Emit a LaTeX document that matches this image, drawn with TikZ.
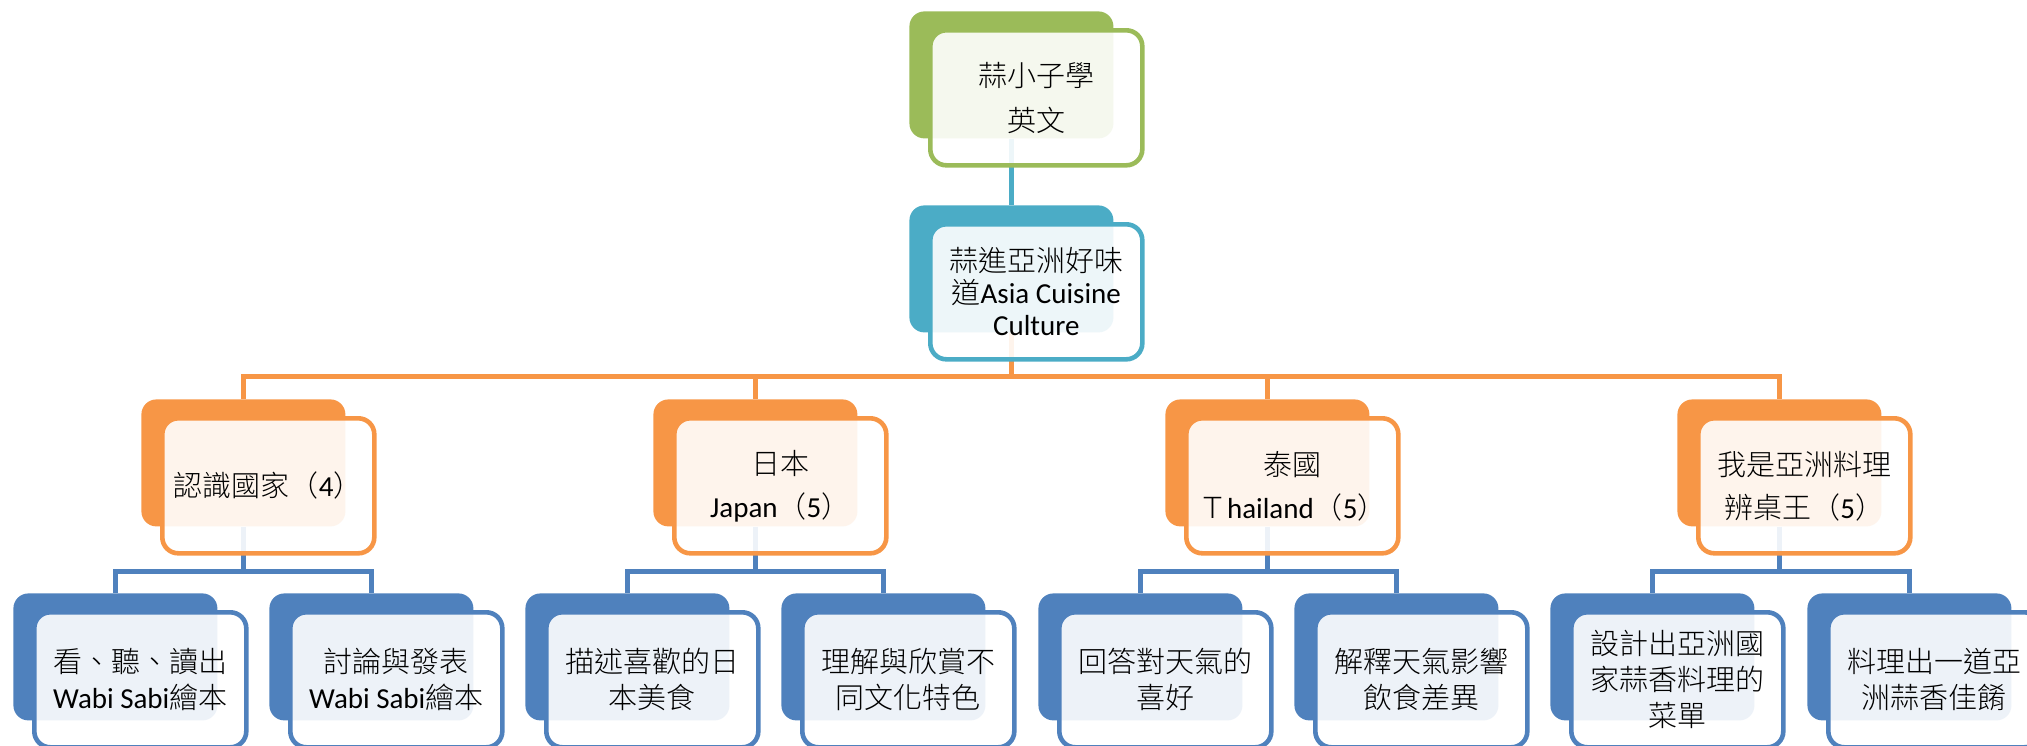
\documentclass[tikz,border=0pt]{standalone}
\usepackage{fontspec}
\setmainfont{Carlito}
\newfontfamily\cjk{Noto Sans CJK TC}[UprightFont=* Light]
\usetikzlibrary{calc}
\pgfdeclarelayer{bg}
\pgfsetlayers{bg,main}
\definecolor{cgreen}{HTML}{9BBB59}
\definecolor{cteal}{HTML}{4BACC6}
\definecolor{corange}{HTML}{F79646}
\definecolor{cblue}{HTML}{4F81BD}
\begin{document}
\begin{tikzpicture}[x=0.5pt,y=-0.5pt,
  backbox/.style={draw=none, fill=#1, rounded corners=7.5pt, minimum width=102pt, minimum height=63.5pt, anchor=north west, inner sep=0pt},
  frontbox/.style={draw=#1, line width=2.3pt, fill=white, fill opacity=0.9, text opacity=1, rounded corners=8pt, minimum width=106pt, minimum height=67.5pt, anchor=north west, align=center, inner sep=0pt, text=black, font=\fontsize{14.5}{18}\selectfont},
  lh/.style={font=\fontsize{14.5}{#1}\selectfont},
  link/.style={draw=#1, line width=2.5pt},
]
\useasboundingbox (0,0) rectangle (2027,745);
\clip (0,0) rectangle (2027,745);

% ---- level 0 and 1
\node[backbox=cgreen] (top-b) at (909,11) {};
\node[frontbox=cgreen, lh=22.5pt] (top-f) at ($(top-b.north west)+(19,17)$) {{\cjk 蒜小子學}\\{\cjk 英文}};
\node[backbox=cteal] (mid-b) at (909,205) {};
\node[frontbox=cteal, lh=16pt] (mid-f) at ($(mid-b.north west)+(19,17)$) {{\cjk 蒜進亞洲好味}\\{\cjk 道}Asia Cuisine\\Culture};

% ---- level 2
\node[backbox=corange] (l2a-b) at (141,399) {};
\node[frontbox=corange] (l2a-f) at ($(l2a-b.north west)+(19,17)$) {{\cjk 認識國家（}4{\cjk ）}};
\node[backbox=corange] (l2b-b) at (653,399) {};
\node[frontbox=corange, lh=21.5pt] (l2b-f) at ($(l2b-b.north west)+(19,17)$) {{\cjk 日本}\\Japan{\cjk （}5{\cjk ）}};
\node[backbox=corange] (l2c-b) at (1165,399) {};
\node[frontbox=corange, lh=21.5pt] (l2c-f) at ($(l2c-b.north west)+(19,17)$) {{\cjk 泰國}\\{\cjk Ｔ}hailand{\cjk （}5{\cjk ）}};
\node[backbox=corange] (l2d-b) at (1677,399) {};
\node[frontbox=corange, lh=21.5pt] (l2d-f) at ($(l2d-b.north west)+(19,17)$) {{\cjk 我是亞洲料理}\\{\cjk 辨桌王（}5{\cjk ）}};

% ---- level 3
\node[backbox=cblue] (c1-b) at (13,593) {};
\node[frontbox=cblue] (c1-f) at ($(c1-b.north west)+(19,17)$) {{\cjk 看、聽、讀出}\\Wabi Sabi{\cjk 繪本}};
\node[backbox=cblue] (c2-b) at (269,593) {};
\node[frontbox=cblue] (c2-f) at ($(c2-b.north west)+(19,17)$) {{\cjk 討論與發表}\\Wabi Sabi{\cjk 繪本}};
\node[backbox=cblue] (c3-b) at (525,593) {};
\node[frontbox=cblue] (c3-f) at ($(c3-b.north west)+(19,17)$) {{\cjk 描述喜歡的日}\\{\cjk 本美食}};
\node[backbox=cblue] (c4-b) at (781,593) {};
\node[frontbox=cblue] (c4-f) at ($(c4-b.north west)+(19,17)$) {{\cjk 理解與欣賞不}\\{\cjk 同文化特色}};
\node[backbox=cblue] (c5-b) at (1038,593) {};
\node[frontbox=cblue] (c5-f) at ($(c5-b.north west)+(19,17)$) {{\cjk 回答對天氣的}\\{\cjk 喜好}};
\node[backbox=cblue] (c6-b) at (1294,593) {};
\node[frontbox=cblue] (c6-f) at ($(c6-b.north west)+(19,17)$) {{\cjk 解釋天氣影響}\\{\cjk 飲食差異}};
\node[backbox=cblue] (c7-b) at (1550,593) {};
\node[frontbox=cblue] (c7-f) at ($(c7-b.north west)+(19,17)$) {{\cjk 設計出亞洲國}\\{\cjk 家蒜香料理的}\\{\cjk 菜單}};
\node[backbox=cblue] (c8-b) at (1807,593) {};
\node[frontbox=cblue] (c8-f) at ($(c8-b.north west)+(19,17)$) {{\cjk 料理出一道亞}\\{\cjk 洲蒜香佳餚}};

% ---- connectors
\begin{pgfonlayer}{bg}
\draw[link=cteal] (top-b.south) -- (mid-b.north);
\foreach \n in {l2a,l2b,l2c,l2d}
  \draw[link=corange] (mid-b.south) |- ($(\n-b.north)+(0,-23)$) -- (\n-b.north);
\foreach \p/\a/\b in {l2a/c1/c2,l2b/c3/c4,l2c/c5/c6,l2d/c7/c8}{
  \draw[link=cblue] (\p-b.south) |- ($(\a-b.north)+(0,-22)$) -- (\a-b.north);
  \draw[link=cblue] (\p-b.south) |- ($(\b-b.north)+(0,-22)$) -- (\b-b.north);
}
\end{pgfonlayer}
\end{tikzpicture}
\end{document}
